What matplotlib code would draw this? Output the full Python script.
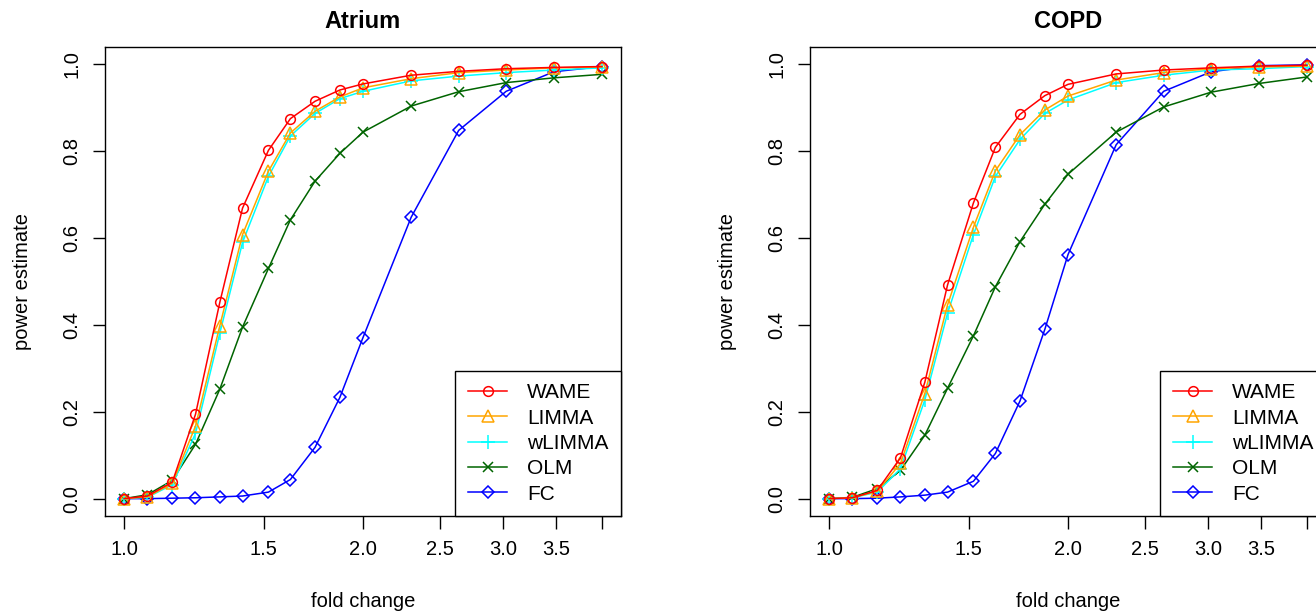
import matplotlib
matplotlib.use("Agg")
import matplotlib.pyplot as plt
from matplotlib.ticker import FixedLocator, FixedFormatter, NullLocator

plt.rcParams['font.family'] = ['Liberation Sans', 'DejaVu Sans']

# fold changes (2^0 ... 2^2)
fold_change = [1.0, 1.07, 1.15, 1.23, 1.32, 1.41, 1.52, 1.62, 1.74, 1.87,
               2.0, 2.3, 2.64, 3.03, 3.48, 4.0]

# Atrium power estimates
wame_atrium = [0.0, 0.006, 0.038, 0.194, 0.452, 0.669, 0.802, 0.875, 0.915, 0.941,
               0.955, 0.975, 0.984, 0.990, 0.993, 0.995]
limma_atrium = [0.0, 0.004, 0.035, 0.167, 0.398, 0.608, 0.754, 0.842, 0.892, 0.925,
                0.946, 0.967, 0.981, 0.987, 0.992, 0.994]
wlimma_atrium = [0.0, 0.003, 0.032, 0.150, 0.381, 0.590, 0.742, 0.835, 0.887, 0.921,
                 0.938, 0.962, 0.973, 0.981, 0.987, 0.992]
olm_atrium = [0.0, 0.009, 0.042, 0.125, 0.252, 0.395, 0.530, 0.642, 0.731, 0.795,
              0.844, 0.904, 0.937, 0.958, 0.969, 0.977]
fc_atrium = [0.0, 0.0, 0.001, 0.002, 0.004, 0.006, 0.015, 0.044, 0.118, 0.233,
             0.371, 0.648, 0.848, 0.938, 0.983, 0.995]

# COPD power estimates
wame_copd = [0.0, 0.002, 0.019, 0.094, 0.268, 0.492, 0.681, 0.809, 0.885, 0.928,
             0.954, 0.978, 0.987, 0.992, 0.996, 0.998]
limma_copd = [0.0, 0.002, 0.017, 0.081, 0.242, 0.446, 0.625, 0.755, 0.838, 0.895,
              0.927, 0.964, 0.981, 0.990, 0.994, 0.996]
wlimma_copd = [0.0, 0.002, 0.015, 0.069, 0.227, 0.427, 0.608, 0.742, 0.827, 0.887,
               0.918, 0.958, 0.975, 0.987, 0.990, 0.995]
olm_copd = [0.0, 0.003, 0.023, 0.065, 0.146, 0.254, 0.375, 0.488, 0.592, 0.678,
            0.747, 0.844, 0.902, 0.936, 0.956, 0.971]
fc_copd = [0.0, 0.0, 0.001, 0.004, 0.008, 0.015, 0.040, 0.104, 0.225, 0.390,
           0.562, 0.815, 0.938, 0.983, 0.997, 0.999]

methods = ['WAME', 'LIMMA', 'wLIMMA', 'OLM', 'FC']
colors = ['red', 'orange', 'cyan', 'darkgreen', 'blue']
markers = ['o', '^', '+', 'x', 'D']
msizes = [7, 8, 10, 7, 6.5]

xtick_vals = [1.0, 1.5, 2.0, 2.5, 3.0, 3.5, 4.0]
xtick_labels = ['1.0', '1.5', '2.0', '2.5', '3.0', '3.5', '']
ytick_vals = [0.0, 0.2, 0.4, 0.6, 0.8, 1.0]

FS = 14.5


def plot_power_panel(ax, title, series):
    lines = []
    # draw FC first so WAME ends up on top
    for i in reversed(range(len(methods))):
        ln, = ax.plot(fold_change, series[i], color=colors[i], marker=markers[i],
                      markersize=msizes[i], markerfacecolor='none',
                      markeredgewidth=1.1, linewidth=1.1, label=methods[i])
        lines.append(ln)
    lines = lines[::-1]

    ax.set_xscale('log')
    ax.set_xlim(0.946, 4.228)
    ax.set_ylim(-0.04, 1.04)
    ax.xaxis.set_major_locator(FixedLocator(xtick_vals))
    ax.xaxis.set_major_formatter(FixedFormatter(xtick_labels))
    ax.xaxis.set_minor_locator(NullLocator())
    ax.set_yticks(ytick_vals)
    ax.set_yticklabels(['%.1f' % v for v in ytick_vals])
    ax.tick_params(axis='both', length=9, width=1.0, labelsize=FS, pad=8)
    ax.tick_params(axis='y', labelrotation=90)
    for lab in ax.get_yticklabels():
        lab.set_va('center')
    for sp in ax.spines.values():
        sp.set_linewidth(1.0)

    ax.set_title(title, fontsize=17, fontweight='bold', pad=14)
    ax.set_xlabel('fold change', fontsize=FS, labelpad=24)
    ax.set_ylabel('power estimate', fontsize=FS, labelpad=22)

    # legend in the bottom right corner, touching the box like R's legend()
    leg = ax.legend(handles=lines, loc='lower right', fontsize=15, frameon=True,
                    fancybox=False, framealpha=1, edgecolor='black',
                    borderaxespad=0, borderpad=0.6, labelspacing=0.3,
                    handlelength=1.9, handletextpad=0.95, numpoints=1)
    leg.get_frame().set_linewidth(1.0)


fig = plt.figure(figsize=(13.16, 6.13), dpi=100)
ax1 = fig.add_axes([105 / 1316, 1 - 516 / 613, 516 / 1316, 469 / 613])
ax2 = fig.add_axes([810 / 1316, 1 - 516 / 613, 516 / 1316, 469 / 613])

plot_power_panel(ax1, 'Atrium', [wame_atrium, limma_atrium, wlimma_atrium, olm_atrium, fc_atrium])
plot_power_panel(ax2, 'COPD', [wame_copd, limma_copd, wlimma_copd, olm_copd, fc_copd])

fig.savefig('out.png', dpi=100)
